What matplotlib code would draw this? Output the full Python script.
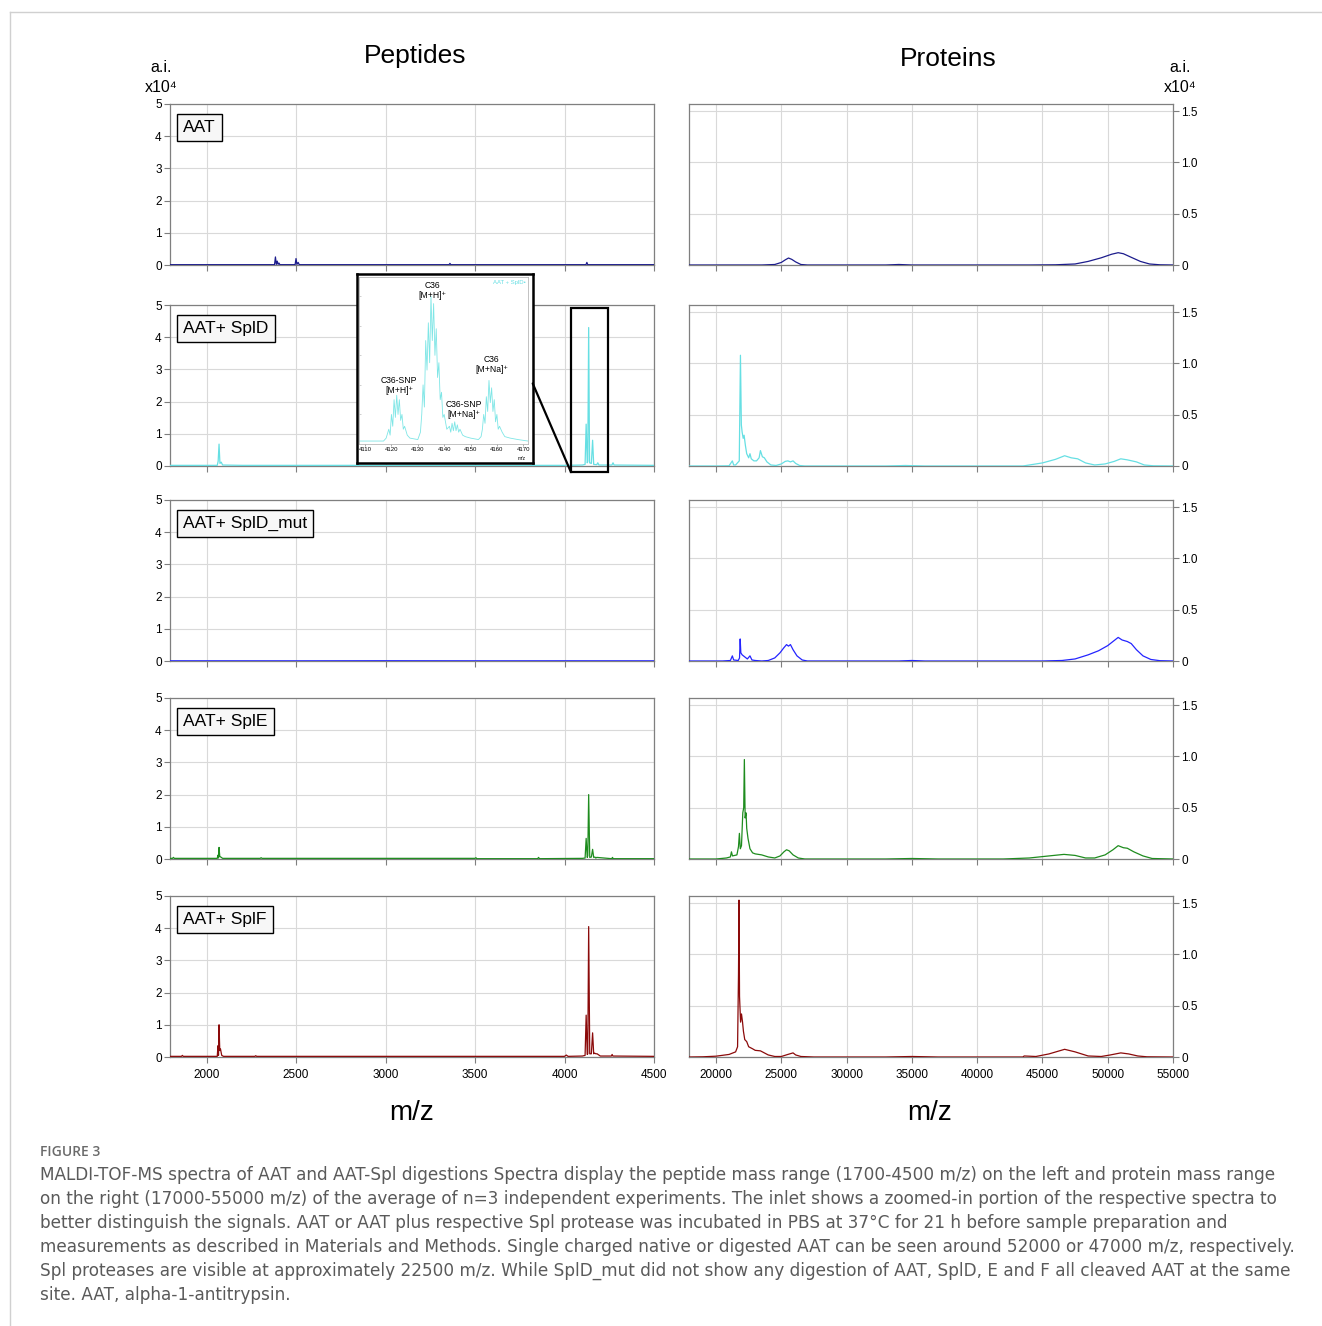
import matplotlib
matplotlib.use("Agg")
import matplotlib.pyplot as plt
from matplotlib.patches import Rectangle, ConnectionPatch
from matplotlib.lines import Line2D

W, H = 1322, 1326
plt.rcParams['font.family'] = ['Liberation Sans', 'DejaVu Sans']
fig = plt.figure(figsize=(W / 100, H / 100), dpi=100)


def fx(p):
    return p / W


def fy(p):
    return 1 - p / H


# ---------------- data ----------------
samples = ["AAT", "AAT+ SplD", "AAT+ SplD_mut", "AAT+ SplE", "AAT+ SplF"]
colors = ["#1c1c8c", "#66dfe3", "#2424ff", "#1e8c1e", "#8b0a0a"]

# Peptide spectra (m/z, intensity x10^4)
pep_aat_x = [1796, 2380, 2385, 2390, 2395, 2400, 2405, 2410, 2495, 2500, 2505, 2512, 2518, 2524,
             3355, 3360, 3365, 4120, 4125, 4130, 4500]
pep_aat_y = [0.01, 0.01, 0.25, 0.02, 0.12, 0.02, 0.06, 0.01, 0.01, 0.2, 0.02, 0.08, 0.01, 0.01,
             0.01, 0.05, 0.01, 0.01, 0.08, 0.01, 0.01]

pep_spld_x = [1796, 2000, 2060, 2065, 2070, 2075, 2082, 2090, 2200, 3000, 4000, 4100, 4115, 4121,
              4127, 4130, 4135, 4140, 4150, 4157, 4163, 4180, 4186, 4192, 4265, 4271, 4277, 4500]
pep_spld_y = [0.02, 0.02, 0.02, 0.15, 0.68, 0.08, 0.12, 0.03, 0.02, 0.02, 0.02, 0.03, 0.05, 1.3,
              0.1, 0.15, 4.3, 0.1, 0.08, 0.8, 0.05, 0.04, 0.1, 0.03, 0.03, 0.1, 0.03, 0.02]

pep_mut_x = [1796, 2500, 3000, 3600, 4000, 4500]
pep_mut_y = [0.006, 0.005, 0.008, 0.005, 0.006, 0.005]

pep_sple_x = [1796, 1810, 1815, 1820, 2000, 2060, 2064, 2067, 2070, 2074, 2080, 2090, 2300, 2305,
              2310, 3500, 3505, 3510, 3850, 3855, 3860, 4100, 4115, 4121, 4127, 4130, 4135, 4141,
              4150, 4157, 4163, 4170, 4175, 4180, 4264, 4268, 4272, 4500]
pep_sple_y = [0.02, 0.02, 0.05, 0.02, 0.02, 0.02, 0.12, 0.03, 0.36, 0.08, 0.06, 0.02, 0.02, 0.04,
              0.02, 0.02, 0.04, 0.01, 0.01, 0.05, 0.01, 0.02, 0.03, 0.64, 0.05, 0.1, 2.0, 0.05,
              0.06, 0.3, 0.05, 0.06, 0.03, 0.05, 0.01, 0.05, 0.01, 0.01]

pep_splf_x = [1796, 1860, 1865, 1870, 2000, 2060, 2064, 2067, 2070, 2074, 2078, 2085, 2095, 2270,
              2275, 2280, 3000, 4000, 4010, 4020, 4100, 4115, 4121, 4127, 4130, 4135, 4141, 4150,
              4157, 4163, 4168, 4175, 4182, 4200, 4262, 4266, 4270, 4500]
pep_splf_y = [0.02, 0.02, 0.05, 0.02, 0.02, 0.02, 0.35, 0.05, 1.0, 0.2, 0.25, 0.05, 0.02, 0.02,
              0.04, 0.02, 0.02, 0.02, 0.06, 0.02, 0.03, 0.05, 1.3, 0.08, 0.1, 4.05, 0.1, 0.1,
              0.75, 0.1, 0.12, 0.1, 0.1, 0.03, 0.03, 0.08, 0.03, 0.02]

# Protein spectra (m/z, intensity x10^4)
prot_aat_x = [17930, 23500, 24500, 25000, 25300, 25550, 25800, 26100, 26500, 27000, 33000, 34000,
              35000, 44000, 46000, 47500, 48500, 49500, 50300, 50800, 51200, 51800, 52500, 53200,
              54000, 55000]
prot_aat_y = [0, 0, 0.005, 0.025, 0.05, 0.068, 0.055, 0.03, 0.005, 0, 0, 0.005,
              0, 0, 0.002, 0.01, 0.035, 0.07, 0.105, 0.12, 0.11, 0.075, 0.035, 0.01,
              0.002, 0]

prot_spld_x = [17930, 20000, 21000, 21250, 21350, 21500, 21780, 21870, 21940, 22000, 22080, 22150,
               22250, 22350, 22500, 22600, 22700, 22900, 23100, 23300, 23400, 23550, 23700, 23900,
               24200, 24600, 25000, 25300, 25500, 25700, 25900, 26100, 26400, 26800, 27300, 33000,
               34500, 36000, 43500, 44000, 45000, 46000, 46700, 47200, 47700, 48300, 49000, 49800,
               50500, 51000, 51500, 52200, 52800, 53500, 55000]
prot_spld_y = [0, 0, 0.002, 0.05, 0.01, 0.01, 0.05, 1.08, 0.4, 0.33, 0.27, 0.3,
               0.2, 0.12, 0.08, 0.12, 0.07, 0.05, 0.05, 0.08, 0.15, 0.09, 0.08, 0.04,
               0.01, 0.005, 0.02, 0.045, 0.05, 0.04, 0.05, 0.025, 0.005, 0, 0, 0,
               0.005, 0, 0, 0.01, 0.03, 0.065, 0.1, 0.08, 0.07, 0.03, 0.01, 0.02,
               0.045, 0.07, 0.06, 0.04, 0.01, 0.002, 0]

prot_mut_x = [17930, 20500, 21100, 21250, 21350, 21700, 21800, 21850, 21900, 22000, 22200, 22400,
              22600, 22750, 23000, 23500, 24000, 24500, 24900, 25200, 25400, 25550, 25700, 25900,
              26200, 26600, 27000, 30000, 34000, 35000, 36000, 45000, 46500, 47500, 48500, 49300,
              50000, 50500, 50800, 51100, 51500, 51800, 52200, 52700, 53300, 54000, 55000]
prot_mut_y = [0, 0, 0.005, 0.05, 0.01, 0.005, 0.03, 0.215, 0.08, 0.06, 0.04, 0.02,
              0.05, 0.01, 0.005, 0, 0.005, 0.03, 0.08, 0.13, 0.16, 0.145, 0.16, 0.11,
              0.05, 0.01, 0, 0, 0, 0.005, 0, 0, 0.005, 0.02, 0.06, 0.1,
              0.15, 0.2, 0.23, 0.205, 0.19, 0.17, 0.11, 0.05, 0.015, 0.003, 0]

prot_sple_x = [17930, 20000, 20800, 21100, 21180, 21260, 21600, 21720, 21790, 21860, 21950, 22050,
               22120, 22170, 22230, 22300, 22350, 22450, 22600, 22800, 23000, 23500, 24000, 24500,
               24900, 25200, 25400, 25600, 25900, 26300, 26800, 27500, 33000, 35000, 37000, 42000,
               44000, 45500, 46650, 47500, 48300, 49000, 49800, 50400, 50800, 51200, 51500, 52000,
               52700, 53400, 55000]
prot_sple_y = [0, 0, 0.01, 0.02, 0.07, 0.03, 0.04, 0.12, 0.25, 0.1, 0.13, 0.45,
               0.5, 0.97, 0.4, 0.45, 0.3, 0.2, 0.1, 0.06, 0.05, 0.04, 0.02, 0.01,
               0.03, 0.07, 0.09, 0.08, 0.04, 0.01, 0, 0, 0, 0.005, 0, 0,
               0.01, 0.03, 0.045, 0.035, 0.01, 0.01, 0.04, 0.09, 0.13, 0.11, 0.105, 0.07,
               0.03, 0.005, 0]

prot_splf_x = [17930, 19000, 20000, 21000, 21500, 21650, 21720, 21760, 21800, 21880, 21950, 22030,
               22100, 22200, 22350, 22500, 22800, 23000, 23400, 23700, 24000, 24500, 25000, 25500,
               25900, 26100, 26500, 27500, 33000, 35000, 37000, 43500, 43600, 44500, 45500, 46700,
               47500, 48500, 49500, 50200, 51000, 51600, 52300, 53000, 55000]
prot_splf_y = [0, 0.002, 0.008, 0.025, 0.05, 0.1, 0.8, 1.53, 0.59, 0.34, 0.42, 0.34,
               0.25, 0.17, 0.15, 0.1, 0.08, 0.065, 0.06, 0.04, 0.02, 0.005, 0.005, 0.025,
               0.04, 0.02, 0.005, 0, 0, 0.005, 0, 0, 0.01, 0.005, 0.03, 0.075,
               0.05, 0.01, 0.005, 0.02, 0.04, 0.03, 0.01, 0.002, 0]

pep_x = [pep_aat_x, pep_spld_x, pep_mut_x, pep_sple_x, pep_splf_x]
pep_y = [pep_aat_y, pep_spld_y, pep_mut_y, pep_sple_y, pep_splf_y]
prot_x = [prot_aat_x, prot_spld_x, prot_mut_x, prot_sple_x, prot_splf_x]
prot_y = [prot_aat_y, prot_spld_y, prot_mut_y, prot_sple_y, prot_splf_y]

pep_xticks = [2000, 2500, 3000, 3500, 4000, 4500]
pep_yticks = [0, 1, 2, 3, 4, 5]
prot_xticks = [20000, 25000, 30000, 35000, 40000, 45000, 50000, 55000]
prot_yticks = [0, 0.5, 1.0, 1.5]
prot_yticklabels = ["0", "0.5", "1.0", "1.5"]

# Inset (AAT+SplD zoom, relative intensity)
inset_mz = [4107.7, 4117, 4118, 4119, 4119.5, 4120, 4120.5, 4121, 4121.5, 4122, 4122.5, 4123,
            4123.5, 4124, 4124.5, 4125, 4126, 4127, 4130, 4131, 4131.5, 4132, 4132.5, 4133,
            4133.5, 4134, 4134.5, 4135, 4135.5, 4136, 4136.5, 4137, 4137.5, 4138, 4138.5, 4139,
            4139.5, 4140, 4141, 4142, 4142.5, 4143, 4143.5, 4144, 4144.5, 4145, 4145.5, 4146,
            4147, 4148, 4150, 4153, 4154, 4154.5, 4155, 4155.5, 4156, 4156.5, 4157, 4157.5,
            4158, 4158.5, 4159, 4159.5, 4160, 4160.5, 4161, 4162, 4163, 4165, 4168, 4171.8]
inset_rel = [2, 2, 4, 10, 6, 20, 12, 30, 18, 33, 20, 30,
             16, 20, 10, 12, 6, 4, 3, 8, 20, 40, 25, 70,
             50, 82, 55, 100, 70, 95, 60, 78, 45, 55, 30, 35,
             18, 20, 10, 12, 8, 14, 9, 15, 9, 13, 8, 10,
             6, 5, 4, 3, 5, 10, 20, 14, 32, 22, 43, 28,
             38, 22, 30, 15, 20, 10, 12, 8, 5, 4, 3, 2]
inset_xticks = [4110, 4120, 4130, 4140, 4150, 4160, 4170]
inset_labels = ["C36\n[M+H]⁺", "C36-SNP\n[M+H]⁺", "C36-SNP\n[M+Na]⁺", "C36\n[M+Na]⁺"]
inset_label_x = [4135.5, 4123, 4147.5, 4158]
inset_label_y = [110, 46, 30, 60]

# ---------------- layout ----------------
row_tops = [104, 305, 500, 698, 896]
row_h = 161
L0, L1 = 170, 654
R0, R1 = 689, 1173
spine_c = "#7f7f7f"
grid_c = "#d9d9d9"

left_axes = []
for i in range(5):
    top = row_tops[i]
    # peptides
    ax = fig.add_axes([fx(L0), fy(top + row_h), fx(L1 - L0), row_h / H])
    ax.plot(pep_x[i], pep_y[i], color=colors[i], lw=0.9, zorder=3)
    ax.set_xlim(1796, 4500)
    ax.set_ylim(0, 5)
    ax.set_xticks(pep_xticks)
    ax.set_yticks(pep_yticks)
    ax.grid(True, color=grid_c, lw=0.8)
    ax.set_axisbelow(True)
    for s in ax.spines.values():
        s.set_color(spine_c)
        s.set_linewidth(0.9)
    ax.tick_params(direction="out", length=4, color=spine_c, labelsize=8.5, pad=2)
    ax.tick_params(axis="x", pad=5)
    if i < 4:
        ax.tick_params(axis="x", labelbottom=False)
    ax.text(0.027, 0.90, samples[i], transform=ax.transAxes, ha="left", va="top", fontsize=12.5,
            bbox=dict(boxstyle="square,pad=0.36", facecolor="#f7f7f7", edgecolor="black", lw=1),
            zorder=6)
    left_axes.append(ax)

    # proteins
    ax2 = fig.add_axes([fx(R0), fy(top + row_h), fx(R1 - R0), row_h / H])
    ax2.plot(prot_x[i], prot_y[i], color=colors[i], lw=0.9, zorder=3)
    ax2.set_xlim(17930, 55000)
    ax2.set_ylim(0, 1.57)
    ax2.set_xticks(prot_xticks)
    ax2.set_yticks(prot_yticks)
    ax2.set_yticklabels(prot_yticklabels)
    ax2.yaxis.tick_right()
    ax2.grid(True, color=grid_c, lw=0.8)
    ax2.set_axisbelow(True)
    for s in ax2.spines.values():
        s.set_color(spine_c)
        s.set_linewidth(0.9)
    ax2.tick_params(direction="out", length=4, color=spine_c, labelsize=8.5, pad=2)
    ax2.tick_params(axis="x", pad=5)
    if i < 4:
        ax2.tick_params(axis="x", labelbottom=False)

# titles & axis labels
fig.text(fx(415), fy(56), "Peptides", ha="center", va="center", fontsize=19)
fig.text(fx(948), fy(59), "Proteins", ha="center", va="center", fontsize=19)
for xp in (161, 1180):
    fig.text(fx(xp), fy(68), "a.i.", ha="center", va="center", fontsize=11.5)
    fig.text(fx(xp), fy(88), "x10⁴", ha="center", va="center", fontsize=11.5)
fig.text(fx(412), fy(1113), "m/z", ha="center", va="center", fontsize=20)
fig.text(fx(930), fy(1113), "m/z", ha="center", va="center", fontsize=20)

# zoom rectangle in row-2 peptide panel
ax_sd = left_axes[1]
ax_sd.add_patch(Rectangle((4036, -0.19), 207, 5.09, fill=False, edgecolor="black", lw=1.6,
                          clip_on=False, zorder=7))

# inset frame and inset axes
frame = fig.add_axes([fx(356.7), fy(462.7), fx(532.7 - 356.7), (462.7 - 274) / H], zorder=5)
frame.set_xticks([])
frame.set_yticks([])
frame.set_facecolor("white")
for s in frame.spines.values():
    s.set_color("black")
    s.set_linewidth(1.8)

axi = fig.add_axes([fx(359), fy(444), fx(528 - 359), (444 - 277) / H], zorder=6)
axi.plot(inset_mz, inset_rel, color="#7fe6e6", lw=0.6)
axi.set_xlim(4107.7, 4171.8)
axi.set_ylim(0, 113)
axi.set_xticks(inset_xticks)
axi.set_yticks([20, 40, 60, 80, 100])
axi.set_yticklabels([])
axi.tick_params(axis="x", direction="out", length=1.5, width=0.5, labelsize=4.3, pad=1,
                color="#888888")
axi.tick_params(axis="y", direction="in", length=1.5, width=0.4, color="#aaaaaa")
for s in axi.spines.values():
    s.set_color("#aaaaaa")
    s.set_linewidth(0.5)
for lab, lx, ly in zip(inset_labels, inset_label_x, inset_label_y):
    axi.text(lx, ly, lab, ha="center", va="top", fontsize=6.2, linespacing=1.15)
axi.text(0.985, 0.985, "AAT + SplD•", transform=axi.transAxes, ha="right", va="top",
         fontsize=4.3, color="#66dfe3")
fig.text(fx(526), fy(458.5), "m/z", ha="right", va="center", fontsize=3.6, zorder=10)

con = ConnectionPatch(xyA=(1.0, 0.42), coordsA=frame.transAxes, xyB=(4036, -0.19),
                      coordsB=ax_sd.transData, color="black", lw=1.6, zorder=8)
fig.add_artist(con)

# card border
fig.add_artist(Line2D([fx(10), fx(10)], [fy(12), 0], color="#d0d0d0", lw=1))
fig.add_artist(Line2D([fx(10), 1], [fy(12), fy(12)], color="#d0d0d0", lw=1))

# caption
fig.text(fx(40), fy(1152), "FIGURE 3", ha="left", va="center", fontsize=10,
         color="#6b6b6b", family=["Open Sans", "DejaVu Sans"], weight="semibold")
caption_lines = [
    "MALDI-TOF-MS spectra of AAT and AAT-Spl digestions Spectra display the peptide mass range (1700-4500 m/z) on the left and protein mass range",
    "on the right (17000-55000 m/z) of the average of n=3 independent experiments. The inlet shows a zoomed-in portion of the respective spectra to",
    "better distinguish the signals. AAT or AAT plus respective Spl protease was incubated in PBS at 37°C for 21 h before sample preparation and",
    "measurements as described in Materials and Methods. Single charged native or digested AAT can be seen around 52000 or 47000 m/z, respectively.",
    "Spl proteases are visible at approximately 22500 m/z. While SplD_mut did not show any digestion of AAT, SplD, E and F all cleaved AAT at the same",
    "site. AAT, alpha-1-antitrypsin.",
]
for k, line in enumerate(caption_lines):
    fig.text(fx(40), fy(1175 + 24 * k), line, ha="left", va="center", fontsize=12.15,
             color="#5a5a5a", family=["DejaVu Sans"])

fig.savefig("out.png", dpi=100)
